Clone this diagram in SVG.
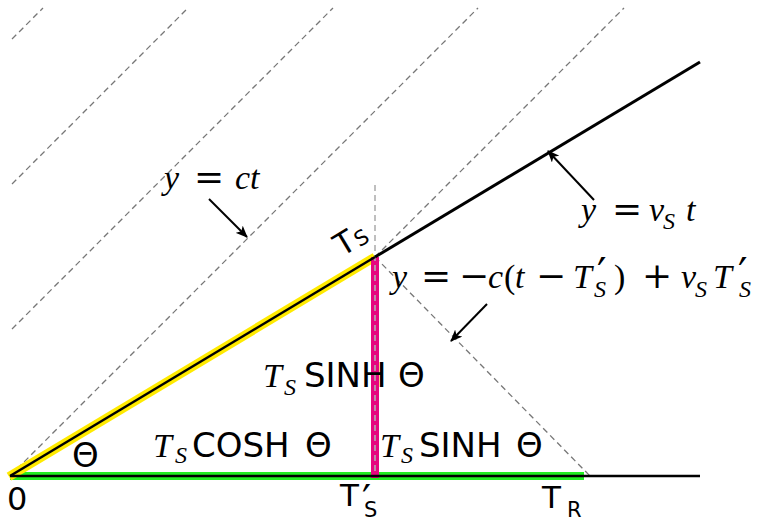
<svg xmlns="http://www.w3.org/2000/svg" width="762" height="521" viewBox="0 0 762 521">
<defs>
<style>
.dash{fill:none;stroke:#777;stroke-width:1.3;stroke-dasharray:6 4}
.vdash{fill:none;stroke:#b0b0b0;stroke-width:1.6;stroke-dasharray:6 4}
.arrow{fill:none;stroke:#000;stroke-width:2;marker-end:url(#ah)}
.m{font-family:"Liberation Serif",serif;font-style:italic;font-size:34px;fill:#000}
.op{font-family:"DejaVu Serif",serif;font-style:normal;font-size:36px}
.par{font-family:"Liberation Serif",serif;font-style:normal;font-size:34px}
.pr{font-family:"DejaVu Sans",sans-serif;font-style:normal;font-size:42px}
.sub{font-size:24px}
.sans{font-family:"DejaVu Sans",sans-serif;font-style:normal;font-size:34px;fill:#000}
</style>
<marker id="ah" viewBox="0 0 12 10" refX="11" refY="5" markerWidth="12" markerHeight="10" markerUnits="userSpaceOnUse" orient="auto"><path d="M0,0 L12,5 L0,10 L3,5 z" fill="#000"/></marker>
</defs>
<rect width="762" height="521" fill="#fff"/>
<g id="light-lines">
<line class="dash" x1="12" y1="39" x2="43" y2="8"/>
<line class="dash" x1="12" y1="184" x2="188" y2="8"/>
<line class="dash" x1="12" y1="329" x2="333" y2="8"/>
<line class="dash" x1="10" y1="476" x2="478" y2="8"/>
<line class="dash" x1="375" y1="257" x2="624" y2="8"/>
<line class="dash" x1="375" y1="257" x2="590" y2="476"/>
</g>
<g id="highlights">
<line x1="10" y1="476" x2="584" y2="476" stroke="#22ee22" stroke-width="8"/>
<line x1="9" y1="476.6" x2="375" y2="257" stroke="#ffea00" stroke-width="9"/>
<line x1="375" y1="257" x2="375" y2="478" stroke="#e6077f" stroke-width="8"/>
<line class="vdash" x1="375" y1="185" x2="375" y2="476"/>
</g>
<g id="worldlines">
<line x1="10" y1="476" x2="700" y2="476" stroke="#000" stroke-width="2.5"/>
<line x1="10" y1="476" x2="375" y2="257" stroke="#000" stroke-width="2.5"/>
<line x1="375" y1="257" x2="700" y2="62" stroke="#000" stroke-width="3"/>
</g>
<g id="connectors">
<line class="arrow" x1="209" y1="199" x2="247" y2="237"/>
<line class="arrow" x1="594" y1="200" x2="548" y2="151"/>
<line class="arrow" x1="487" y1="304" x2="451" y2="341"/>
</g>
<g id="label-ct">
<text class="m" y="189"><tspan x="164">y</tspan><tspan class="op" x="194">=</tspan><tspan x="235">c</tspan><tspan x="250">t</tspan></text>
</g>
<g id="label-vst">
<text class="m" y="221"><tspan x="581">y</tspan><tspan class="op" x="612">=</tspan><tspan x="649">v</tspan><tspan class="sub" x="663" y="229">S</tspan><tspan x="686" y="221">t</tspan></text>
</g>
<g id="label-return">
<text class="m" y="288"><tspan x="392">y</tspan><tspan class="op" x="421">=</tspan><tspan class="op" x="459">−</tspan><tspan x="488">c</tspan><tspan class="par" x="504">(</tspan><tspan x="515">t</tspan><tspan class="op" x="536">−</tspan><tspan x="573">T</tspan><tspan class="pr" x="597" y="288">′</tspan><tspan class="sub" x="594" y="297">S</tspan><tspan class="par" x="614" y="288">)</tspan><tspan class="op" x="642">+</tspan><tspan x="681">v</tspan><tspan class="sub" x="695" y="297">S</tspan><tspan x="713" y="288">T</tspan><tspan class="pr" x="738" y="288">′</tspan><tspan class="sub" x="739" y="297">S</tspan></text>
</g>
<g id="label-ts">
<text class="sans" transform="translate(342,257) rotate(-31)" style="font-size:31px">T<tspan dx="1" dy="1" style="font-size:21px">S</tspan></text>
</g>
<g id="label-sinh-upper">
<text class="m" y="387"><tspan x="263">T</tspan><tspan class="sub" x="284" y="395">S</tspan><tspan class="sans" x="304" y="387">SINH</tspan><tspan class="sans" x="398">Θ</tspan></text>
</g>
<g id="label-cosh">
<text class="m" y="457"><tspan x="153">T</tspan><tspan class="sub" x="175" y="463">S</tspan><tspan class="sans" x="192" y="457">COSH</tspan><tspan class="sans" x="305">Θ</tspan></text>
</g>
<g id="label-sinh-lower">
<text class="m" y="457"><tspan x="380">T</tspan><tspan class="sub" x="401" y="463">S</tspan><tspan class="sans" x="419" y="457">SINH</tspan><tspan class="sans" x="516">Θ</tspan></text>
</g>
<g id="label-theta">
<text class="sans" x="72" y="467">Θ</text>
</g>
<g id="axis-labels">
<text class="sans" x="7" y="510" style="font-size:32px">0</text>
<text class="sans" x="340" y="506" style="font-size:31px">T<tspan x="362" y="514" style="font-size:40px">′</tspan><tspan x="364" y="517" style="font-size:21px">S</tspan></text>
<text class="sans" x="542" y="508" style="font-size:31px">T<tspan x="567" y="517" style="font-size:21px">R</tspan></text>
</g>
</svg>
